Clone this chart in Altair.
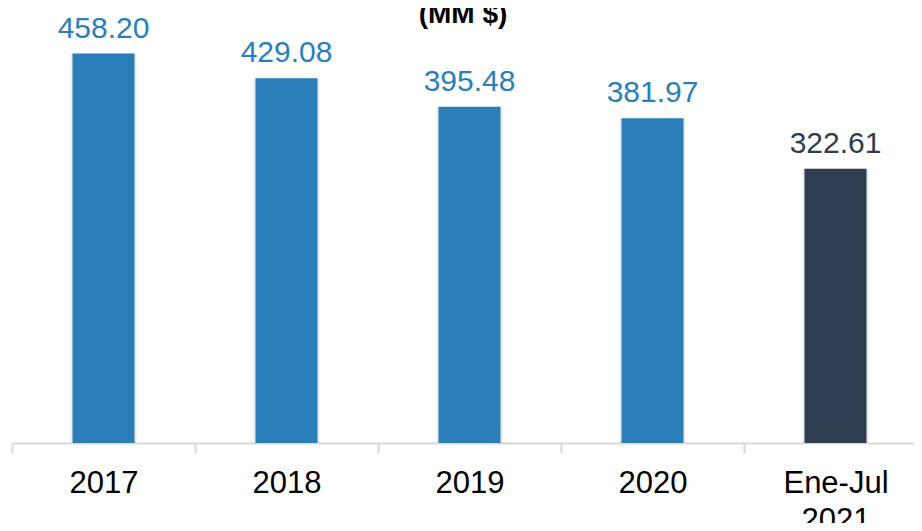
import altair as alt
import pandas as pd

categorias = ["2017", "2018", "2019", "2020", "Ene-Jul 2021"]
valores = [458.20, 429.08, 395.48, 381.97, 322.61]
tipos = ["anual", "anual", "anual", "anual", "parcial"]

df = pd.DataFrame({"periodo": categorias, "valor": valores, "tipo": tipos})

x = alt.X("periodo:N", sort=categorias, title=None,
          scale=alt.Scale(paddingInner=0, paddingOuter=0, range=[0, 915]),
          axis=alt.Axis(labelAngle=0, labelFont="Liberation Sans", labelFontSize=31,
                        labelColor="#000000", labelPadding=15, labelLineHeight=37,
                        labelExpr="split(datum.label, ' ')",
                        domainColor="#d9d9d9", domainWidth=2,
                        tickColor="#d9d9d9", tickWidth=2, tickSize=10,
                        tickBand="extent", grid=False))
y = alt.Y("valor:Q", scale=alt.Scale(domain=[0, 500], nice=False), axis=None)
color = alt.Color("tipo:N", scale=alt.Scale(domain=["anual", "parcial"],
                                              range=["#2a7fb8", "#2c3e50"]), legend=None)

base = alt.Chart(df).encode(x=x, y=y)

shadow = base.mark_bar(size=66, color="#000000", opacity=0.08)
bars = base.mark_bar(size=62).encode(color=color)
labels = base.mark_text(font="Liberation Sans", fontSize=30, baseline="alphabetic",
                        dy=-16).encode(text=alt.Text("valor:Q", format=".2f"), color=color)

chart = alt.layer(shadow, bars, labels).properties(
    width=902, height=425,
    background="#ffffff",
    title=alt.TitleParams("(MM $)", font="Liberation Sans", fontSize=28, fontWeight="bold",
                          color="#000000", anchor="middle", baseline="alphabetic",
                          offset=0, dy=37),
    autosize=alt.AutoSizeParams(type="none"),
    padding={"left": 4, "top": 10, "right": 0, "bottom": 80},
).configure_view(strokeWidth=0, stroke="transparent")

chart.save("out.html", embed_options={"renderer": "svg", "actions": False})
